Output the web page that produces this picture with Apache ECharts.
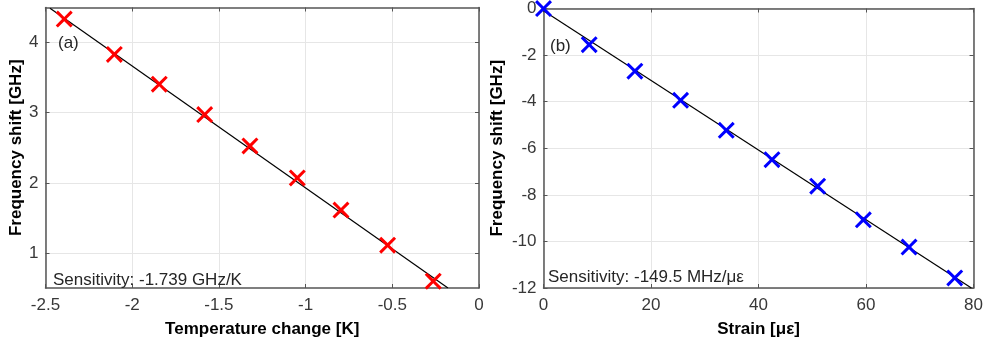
<!DOCTYPE html>
<html><head><meta charset="utf-8">
<script src="https://cdn.jsdelivr.net/npm/echarts@6/dist/echarts.min.js"></script>
<style>html,body{margin:0;padding:0;background:#fff}#c{width:986px;height:344px}</style>
</head><body><div id="c"></div>
<script>
// Panel (a): temperature
const tempX = [-2.392, -2.103, -1.844, -1.582, -1.321, -1.048, -0.796, -0.527, -0.264];
const tempY = [4.336, 3.831, 3.407, 2.974, 2.526, 2.069, 1.611, 1.111, 0.597];
const tempFitX = [-2.474, -0.179];
const tempFitY = [4.49, 0.5];
const tempXTicks = [-2.5, -2, -1.5, -1, -0.5, 0];
const tempYTicks = [1, 2, 3, 4];
// Panel (b): strain
const strainX = [0, 8.5, 17, 25.5, 34, 42.5, 51, 59.5, 68, 76.5];
const strainY = [0, -1.556, -2.69, -3.94, -5.23, -6.49, -7.63, -9.07, -10.24, -11.57];
const strainFitX = [0, 79.6];
const strainFitY = [-0.1, -12];
const strainXTicks = [0, 20, 40, 60, 80];
const strainYTicks = [-12, -10, -8, -6, -4, -2, 0];

const FONT = 'Liberation Sans, Arial, sans-serif';
const XSYM = 'path://M0,2.5L2.5,0L10,7.5L17.5,0L20,2.5L12.5,10L20,17.5L17.5,20L10,12.5L2.5,20L0,17.5L7.5,10Z';
const frame = '#555';
const tickC = '#383838';
const gridC = '#e6e6e6';
const FS = 17;

function xAxes(gi, min, max, interval, name) {
  return [{
    gridIndex: gi, type: 'value', min, max, interval, position: 'bottom',
    name, nameLocation: 'middle', nameGap: 33,
    nameTextStyle: {fontFamily: FONT, fontWeight: 'bold', fontSize: FS, color: '#000'},
    axisLine: {onZero: false, lineStyle: {color: frame, width: 1.5}},
    axisTick: {inside: true, length: 4, lineStyle: {color: frame}},
    axisLabel: {fontFamily: FONT, fontSize: FS, color: tickC, margin: 9},
    splitLine: {show: true, lineStyle: {color: gridC}}
  }, {
    gridIndex: gi, type: 'value', min, max, interval, position: 'top',
    axisLine: {show: true, onZero: false, lineStyle: {color: frame, width: 1.5}},
    axisTick: {show: true, inside: true, length: 4, lineStyle: {color: frame}},
    axisLabel: {show: false}, splitLine: {show: false}
  }];
}
function yAxes(gi, min, max, interval, gap, ticks, grid) {
  const tickOpt = {show: true, inside: true, length: 4, lineStyle: {color: frame}};
  if (ticks) tickOpt.customValues = ticks;
  const lab = {fontFamily: FONT, fontSize: FS, color: tickC, margin: 7};
  if (ticks) lab.customValues = ticks;
  return [{
    gridIndex: gi, type: 'value', min, max, interval, position: 'left',
    name: 'Frequency shift [GHz]', nameLocation: 'middle', nameGap: gap, nameRotate: 90,
    nameTextStyle: {fontFamily: FONT, fontWeight: 'bold', fontSize: FS, color: '#000'},
    axisLine: {show: true, onZero: false, lineStyle: {color: frame, width: 1.5}},
    axisTick: tickOpt,
    axisLabel: lab,
    splitLine: {show: grid, lineStyle: {color: gridC}}
  }, {
    gridIndex: gi, type: 'value', min, max, interval, position: 'right',
    axisLine: {show: true, onZero: false, lineStyle: {color: frame, width: 1.5}},
    axisTick: tickOpt,
    axisLabel: {show: false}, splitLine: {show: false}
  }];
}

const zip = (a, b) => a.map((v, i) => [v, b[i]]);

const chart = echarts.init(document.getElementById('c'), null, {renderer: 'canvas'});
chart.setOption({
  animation: false,
  backgroundColor: '#fff',
  grid: [
    {left: 45.5, right: 507, top: 7.5, bottom: 56},
    {left: 543.5, right: 10, top: 8, bottom: 56}
  ],
  xAxis: [...xAxes(0, -2.5, 0, 0.5, 'Temperature change [K]'), ...xAxes(1, 0, 80, 20, 'Strain [με]')],
  yAxis: [...yAxes(0, 0.5, 4.5, 0.5, 21, tempYTicks, false), ...yAxes(1, -12, 0, 2, 38, null, true)],
  title: [
    {text: '(a)', left: 53, top: 30, textStyle: {fontFamily: FONT, fontSize: FS, fontWeight: 'normal', color: '#262626'}},
    {text: '(b)', left: 545, top: 33, textStyle: {fontFamily: FONT, fontSize: FS, fontWeight: 'normal', color: '#262626'}},
    {text: 'Sensitivity: -1.739 GHz/K', left: 48, top: 267, textStyle: {fontFamily: FONT, fontSize: FS, fontWeight: 'normal', color: '#262626'}},
    {text: 'Sensitivity: -149.5 MHz/με', left: 543, top: 264, textStyle: {fontFamily: FONT, fontSize: FS, fontWeight: 'normal', color: '#262626'}}
  ],
  series: [
    {type: 'line', xAxisIndex: 0, yAxisIndex: 0, data: zip(tempFitX, tempFitY), symbol: 'none',
      lineStyle: {color: '#000', width: 1.2}, z: 2,
      markLine: {silent: true, symbol: 'none', label: {show: false}, animation: false,
        lineStyle: {color: gridC, type: 'solid', width: 1}, z: 0,
        data: tempYTicks.map(v => ({yAxis: v}))}},
    {type: 'scatter', xAxisIndex: 0, yAxisIndex: 0, data: zip(tempX, tempY), symbol: XSYM, symbolSize: 17,
      itemStyle: {color: '#ff0000', opacity: 1}, z: 3},
    {type: 'line', xAxisIndex: 2, yAxisIndex: 2, data: zip(strainFitX, strainFitY), symbol: 'none',
      lineStyle: {color: '#000', width: 1.2}, z: 2},
    {type: 'scatter', xAxisIndex: 2, yAxisIndex: 2, data: zip(strainX, strainY), symbol: XSYM, symbolSize: 17,
      itemStyle: {color: '#0000ff', opacity: 1}, z: 3, clip: false}
  ]
});
</script></body></html>
